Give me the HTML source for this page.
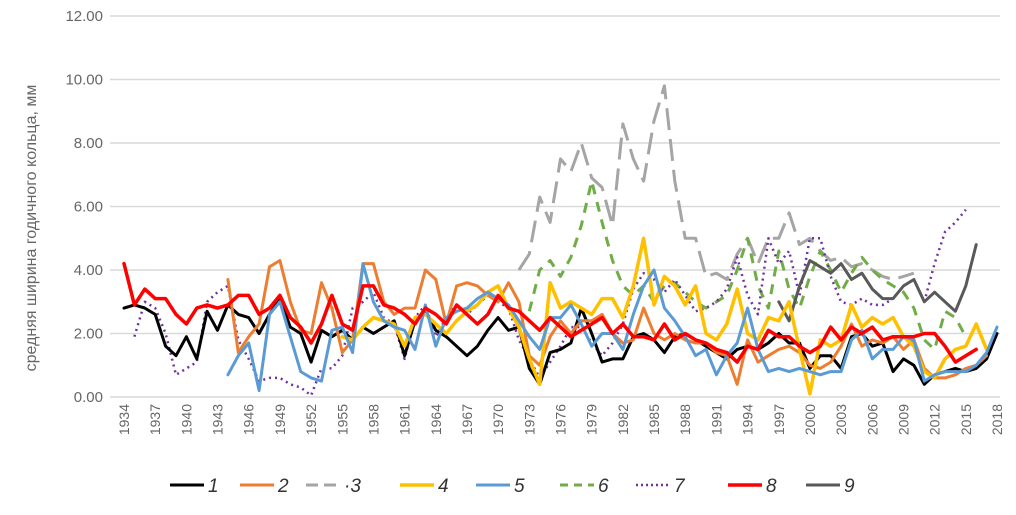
<!DOCTYPE html>
<html><head><meta charset="utf-8"><style>
body{margin:0;background:#fff;width:1016px;height:510px;overflow:hidden;font-family:"Liberation Sans",sans-serif}
svg text{font-family:"Liberation Sans","Noto Sans CJK SC",sans-serif}
</style></head><body>
<svg id="chart" width="1016" height="510" xmlns="http://www.w3.org/2000/svg"></svg>
<script>
const yTicks=[0,2,4,6,8,10,12];
const yTickLabels=["0.00","2.00","4.00","6.00","8.00","10.00","12.00"];
const firstYear=1934,lastYear=2018;
const s1Start=1934;
const s1=[2.8,2.9,2.8,2.6,1.6,1.3,1.9,1.2,2.7,2.1,2.9,2.6,2.5,2.0,2.6,3.1,2.2,2.0,1.1,2.1,1.9,2.1,1.8,2.2,2.0,2.2,2.4,1.3,2.4,2.7,2.1,1.9,1.6,1.3,1.6,2.1,2.5,2.1,2.2,0.9,0.4,1.4,1.5,1.7,2.8,2.0,1.1,1.2,1.2,1.9,2.0,1.8,1.4,1.9,2.0,1.8,1.6,1.4,1.2,1.5,1.6,1.5,1.7,2.0,1.7,1.7,0.9,1.3,1.3,0.9,1.9,2.0,1.6,1.7,0.8,1.2,1.0,0.4,0.7,0.8,0.9,0.8,0.9,1.2,2.0];
const s2Start=1944;
const s2=[3.7,1.4,1.9,2.3,4.1,4.3,3.0,2.1,2.0,3.6,2.8,1.4,1.8,4.2,4.2,3.0,2.6,2.8,2.8,4.0,3.7,2.3,3.5,3.6,3.5,3.2,3.0,3.6,3.0,1.3,1.0,1.9,2.4,2.0,2.4,2.4,2.6,2.0,1.7,1.8,2.8,2.0,1.8,2.0,1.8,1.7,1.7,1.4,1.3,0.4,1.8,1.1,1.3,1.5,1.6,1.4,1.0,0.9,1.1,1.6,2.3,1.6,1.8,1.7,1.9,1.5,1.8,0.9,0.6,0.6,0.7,0.9,1.0,1.3];
const s3Start=1972;
const s3=[4.0,4.5,6.3,5.5,7.5,7.1,8.0,6.9,6.6,5.4,8.6,7.5,6.8,8.7,9.8,6.8,5.0,5.0,3.8,3.9,3.7,4.5,5.0,4.2,5.0,5.0,5.8,4.8,5.0,4.6,4.3,4.4,4.1,4.2,4.0,3.8,3.7,3.8,3.9];
const s4Start=1955;
const s4=[1.9,1.8,2.2,2.5,2.4,2.3,1.6,2.5,2.6,2.3,2.0,2.4,2.7,2.9,3.3,3.5,2.8,2.2,1.2,0.4,3.6,2.8,3.0,2.8,2.6,3.1,3.1,2.5,3.5,5.0,2.9,3.8,3.5,2.9,3.5,2.0,1.8,2.3,3.4,2.0,1.8,2.5,2.4,3.0,1.5,0.1,1.8,1.6,1.8,2.9,2.2,2.5,2.3,2.5,1.9,1.6,0.8,0.6,1.2,1.5,1.6,2.3,1.5];
const s5Start=1944;
const s5=[0.7,1.3,1.7,0.2,2.6,3.0,1.9,0.8,0.6,0.5,2.1,2.2,1.4,4.2,3.0,2.4,2.2,2.1,1.5,2.9,1.6,2.5,2.7,2.8,3.1,3.3,3.1,2.9,2.4,1.9,1.5,2.5,2.5,2.9,2.3,1.6,2.0,2.0,1.5,2.6,3.5,4.0,2.8,2.4,1.9,1.3,1.5,0.7,1.3,1.7,2.8,1.5,0.8,0.9,0.8,0.9,0.8,0.7,0.8,0.8,1.8,2.1,1.2,1.5,1.5,1.9,1.8,0.5,0.7,0.8,0.8,0.8,1.0,1.4,2.2];
const s6Start=1973;
const s6=[2.7,4.0,4.3,3.8,4.4,5.4,6.8,5.5,4.3,3.5,3.2,3.5,3.0,3.5,3.6,3.3,3.0,2.8,3.0,3.2,4.0,5.0,3.5,2.8,4.6,3.4,2.8,3.8,4.6,4.0,3.3,3.9,4.4,4.0,3.7,3.5,3.3,2.8,1.8,1.5,2.7,2.5,1.9];
const s7Start=1935;
const s7=[1.9,3.0,2.8,2.0,0.7,0.9,1.1,3.0,3.3,3.5,1.8,1.2,0.5,0.6,0.6,0.4,0.3,0.05,0.9,0.9,1.3,2.8,3.0,3.3,2.5,2.3,1.2,2.5,2.9,1.9,2.5,2.9,2.6,2.9,3.2,3.0,2.8,1.8,1.2,0.6,1.1,1.6,2.2,2.2,1.7,1.3,1.7,2.3,3.4,3.9,3.7,3.3,3.7,3.2,2.7,2.8,3.0,3.4,4.4,3.2,2.6,5.0,4.2,4.6,3.2,5.0,5.0,3.8,3.0,2.9,3.1,2.9,2.9,3.1,3.5,3.7,3.0,4.2,5.2,5.5,5.9];
const s8Start=1934;
const s8=[4.2,2.9,3.4,3.1,3.1,2.6,2.3,2.8,2.9,2.8,2.9,3.2,3.2,2.6,2.8,3.2,2.5,2.2,1.7,2.3,3.2,2.3,2.1,3.5,3.5,2.9,2.8,2.6,2.3,2.8,2.6,2.3,2.9,2.6,2.3,2.6,3.2,2.8,2.7,2.4,2.1,2.5,2.2,1.9,2.1,2.3,2.5,2.0,2.3,1.9,1.9,1.8,2.3,1.8,2.0,1.8,1.7,1.5,1.4,1.1,1.6,1.5,2.1,1.9,1.9,1.6,1.4,1.6,2.2,1.8,2.2,2.0,2.2,1.8,1.9,1.9,1.9,2.0,2.0,1.6,1.1,1.3,1.5];
const s9Start=1997;
const s9=[3.0,2.4,3.5,4.3,4.1,3.9,4.2,3.7,3.9,3.4,3.1,3.1,3.5,3.7,3.0,3.3,3.0,2.7,3.5,4.8];
const seriesNames=["1","2","3","4","5","6","7","8","9"];

const NS="http://www.w3.org/2000/svg";
const svg=document.getElementById('chart');
const L=124,R=997,Y0=397,Y12=16;
const xS=yr=>L+(yr-firstYear)*(R-L)/(lastYear-firstYear);
const yS=v=>Y0-v*(Y0-Y12)/12;
function mk(tag,attrs){const e=document.createElementNS(NS,tag);for(const k in attrs)e.setAttribute(k,attrs[k]);svg.appendChild(e);return e;}

yTicks.forEach((t,i)=>{
  const g=mk('line',{x1:110,x2:1000,y1:yS(t),y2:yS(t),stroke:'#d9d9d9','stroke-width':1.5});
  
  
  const tx=mk('text',{x:103,y:yS(t)+5,'text-anchor':'end','font-size':15,fill:'#666'});
  tx.textContent=yTickLabels[i];
  
  
});
const yt=mk('text',{x:0,y:0,'font-size':16,fill:'#666','text-anchor':'middle',transform:'translate(36,228) rotate(-90)'});
yt.textContent='средняя ширина годичного кольца, мм';



for(let yr=firstYear;yr<=lastYear;yr+=3){
  const tx=mk('text',{x:0,y:0,'font-size':14,fill:'#666','text-anchor':'end',transform:`translate(${xS(yr)+5},404) rotate(-90)`});
  tx.textContent=yr;
  
  
}

const styles=[
 {c:'#000000',w:3,d:''},
 {c:'#ed7d31',w:3,d:''},
 {c:'#a5a5a5',w:3,d:'22,9'},
 {c:'#ffc000',w:3.5,d:''},
 {c:'#5b9bd5',w:3,d:''},
 {c:'#70ad47',w:3,d:'10,8'},
 {c:'#7030a0',w:2.5,d:'2,4'},
 {c:'#ff0000',w:3.5,d:''},
 {c:'#595959',w:3,d:''}];
const data=[[s3Start,s3],[s6Start,s6],[s7Start,s7],[s9Start,s9],[s1Start,s1],[s2Start,s2],[s4Start,s4],[s5Start,s5],[s8Start,s8]];
const idx=[2,5,6,8,0,1,3,4,7];
data.forEach((d,k)=>{
  const i=idx[k],st=styles[i];
  const pts=d[1].map((v,j)=>xS(d[0]+j).toFixed(1)+','+yS(v).toFixed(1)).join(' ');
  const p=mk('polyline',{points:pts,fill:'none',stroke:st.c,'stroke-width':st.w,'stroke-dasharray':st.d,'stroke-linejoin':'round','stroke-linecap':st.d?'butt':'round'});
  
  
});

const lx=[170,240,306,400,476,560,636,728,806];
seriesNames.forEach((n,i)=>{
  const st=styles[i];
  const ln=mk('line',{x1:lx[i],x2:lx[i]+34,y1:485,y2:485,stroke:st.c,'stroke-width':st.w,'stroke-dasharray':st.d==='22,9'?'12,6':st.d==='2,4'?'2,3':st.d==='10,8'?'8,6':''});
  
  
  const t=mk('text',{x:lx[i]+38,y:492,'font-size':19,'font-style':'italic',fill:'#333'});
  t.textContent=(n==='3'?'·':'')+n;
  
  
});
</script>
</body></html>
